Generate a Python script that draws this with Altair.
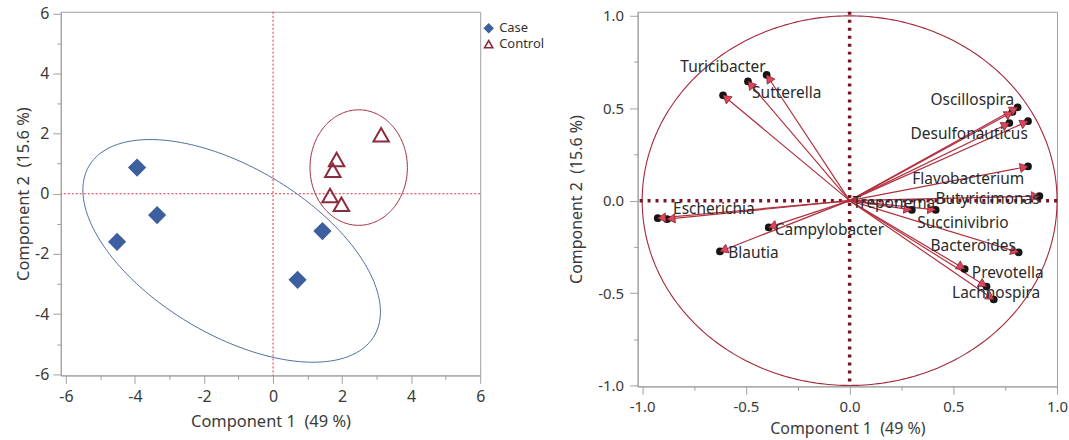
import altair as alt
import pandas as pd
import numpy as np

# ---------------- Left panel: sample scores ----------------
groups = ["Case", "Control"]
case_x = [-3.94, -3.36, -4.52, 1.43, 0.71]
case_y = [0.87, -0.71, -1.60, -1.24, -2.86]
control_x = [3.13, 1.84, 1.73, 1.65, 1.98]
control_y = [1.96, 1.14, 0.78, -0.06, -0.35]

# ellipse: centre x, centre y, semi-axis a, semi-axis b, rotation (deg)
case_ellipse = [-1.2, -1.9, 5.02, 2.66, -37.2]
control_ellipse = [2.48, 0.87, 1.41, 1.92, 0.0]

# ---------------- Right panel: loadings ----------------
load_x = [-0.40, -0.49, -0.61, 0.81, 0.785, 0.77, 0.86, 0.86, 0.915, 0.30,
          0.415, 0.815, 0.555, 0.66, 0.695, -0.925, -0.88, -0.39, -0.625]
load_y = [0.68, 0.645, 0.57, 0.505, 0.48, 0.42, 0.43, 0.185, 0.025, -0.05,
          -0.05, -0.28, -0.37, -0.465, -0.535, -0.095, -0.10, -0.145, -0.275]

label_names = ["Turicibacter", "Sutterella", "Oscillospira", "Desulfonauticus",
               "Flavobacterium", "Butyricimonas", "Treponema", "Succinivibrio",
               "Bacteroides", "Prevotella", "Lachnospira", "Escherichia",
               "Campylobacter", "Blautia"]
label_x = [-0.816, -0.47, 0.39, 0.294, 0.302, 0.414, 0.014, 0.326, 0.39, 0.589,
           0.494, -0.851, -0.361, -0.585]
label_y = [0.725, 0.58, 0.544, 0.361, 0.117, 0.011, -0.012, -0.119, -0.244,
           -0.389, -0.501, -0.048, -0.158, -0.286]

FONT = "Noto Sans"
TXT = "#3a3a3a"
FRAME = "#a0a0a0"
TITLE_X = "Component 1\u00a0 (49 %)"
TITLE_Y = "Component 2\u00a0 (15.6 %)"

# ---------- left chart ----------
LW, LH = 421, 365
xs_l = alt.Scale(domain=[-6.15, 6.0], nice=False, zero=False)
ys_l = alt.Scale(domain=[-6.04, 6.05], nice=False, zero=False)
tick_l = {"condition": {"test": "datum.value % 2 == 0", "value": 8}, "value": 4}
lab_l = "datum.value % 2 == 0 ? '' + datum.value : ''"
ax_lx = alt.Axis(values=list(range(-6, 7)), labelExpr=lab_l, tickSize=tick_l,
                 title=TITLE_X, grid=False, labelFontSize=16, titleFontSize=16.5,
                 titlePadding=9, labelPadding=5, labelFlush=False)
ax_ly = alt.Axis(values=list(range(-6, 7)), labelExpr=lab_l, tickSize=tick_l,
                 title=TITLE_Y, grid=False, labelFontSize=16, titleFontSize=16.5,
                 titlePadding=3, labelPadding=4, labelFlush=False)


def LX(f):
    return alt.X(f, type="quantitative", scale=xs_l, axis=ax_lx)


def LY(f):
    return alt.Y(f, type="quantitative", scale=ys_l, axis=ax_ly)


zero_df = pd.DataFrame({"v": [0.0]})
l_h = alt.Chart(zero_df).mark_rule(color="#e0303c", strokeDash=[2, 2], strokeWidth=1).encode(y=LY("v"))
l_v = alt.Chart(zero_df).mark_rule(color="#e0303c", strokeDash=[2, 2], strokeWidth=1).encode(x=LX("v"))


def ellipse_df(p, name):
    cx, cy, a, b, ang = p
    t = np.linspace(0, 2 * np.pi, 241)
    th = np.radians(ang)
    ex = cx + a * np.cos(t) * np.cos(th) - b * np.sin(t) * np.sin(th)
    ey = cy + a * np.cos(t) * np.sin(th) + b * np.sin(t) * np.cos(th)
    return pd.DataFrame({"ex": ex, "ey": ey, "o": np.arange(len(t)), "grp": name})


e1 = alt.Chart(ellipse_df(case_ellipse, "Case")).mark_line(color="#4f6d9f", strokeWidth=1).encode(
    x=LX("ex"), y=LY("ey"), order="o:Q")
e2 = alt.Chart(ellipse_df(control_ellipse, "Control")).mark_line(color="#a3283a", strokeWidth=1).encode(
    x=LX("ex"), y=LY("ey"), order="o:Q")

pts = pd.DataFrame({"x": case_x + control_x, "y": case_y + control_y,
                    "group": ["Case"] * len(case_x) + ["Control"] * len(control_x)})
leg = alt.Legend(title=None, orient="none", legendX=423, legendY=10, symbolSize=70,
                 labelFontSize=13, labelFont=FONT, labelColor="#333333", rowPadding=1,
                 symbolStrokeWidth=1.6, labelOffset=4)
points = alt.Chart(pts).mark_point(size=240, strokeWidth=2, opacity=1).encode(
    x=LX("x"), y=LY("y"),
    shape=alt.Shape("group:N", scale=alt.Scale(domain=groups, range=["diamond", "triangle-up"]), legend=leg),
    fill=alt.Fill("group:N", scale=alt.Scale(domain=groups, range=["#3d5f9e", "transparent"]), legend=leg),
    stroke=alt.Stroke("group:N", scale=alt.Scale(domain=groups, range=["#3d5f9e", "#8e2a3e"]), legend=leg),
)

left = alt.layer(l_h, l_v, e1, e2, points).properties(width=LW, height=LH)

# ---------- right chart ----------
RW, RH = 421, 376
xs_r = alt.Scale(domain=[-1.022, 1.0], nice=False, zero=False)
ys_r = alt.Scale(domain=[-1.005, 1.022], nice=False, zero=False)
is_major = "abs(datum.value * 2 - round(datum.value * 2)) < 0.001"
tick_r = {"condition": {"test": is_major, "value": 8}, "value": 4}
lab_r = is_major + " ? replace(format(datum.value, '.1f'), '\u2212', '-') : ''"
rvals = [-1.0, -0.75, -0.5, -0.25, 0.0, 0.25, 0.5, 0.75, 1.0]
ax_rx = alt.Axis(values=rvals, labelExpr=lab_r, tickSize=tick_r,
                 title=TITLE_X, grid=False, labelFontSize=15, titleFontSize=16,
                 titlePadding=6, labelPadding=5, labelFlush=False)
ax_ry = alt.Axis(values=rvals, labelExpr=lab_r, tickSize=tick_r,
                 title=TITLE_Y, grid=False, labelFontSize=15, titleFontSize=16,
                 titlePadding=13, labelPadding=6, labelFlush=False)


def RX(f):
    return alt.X(f, type="quantitative", scale=xs_r, axis=ax_rx)


def RY(f):
    return alt.Y(f, type="quantitative", scale=ys_r, axis=ax_ry)


t = np.linspace(0, 2 * np.pi, 361)
circ = pd.DataFrame({"cx": np.cos(t), "cy": np.sin(t), "o": np.arange(len(t))})
r_circle = alt.Chart(circ).mark_line(color="#a3283a", strokeWidth=1.1).encode(
    x=RX("cx"), y=RY("cy"), order="o:Q")
r_h = alt.Chart(zero_df).mark_rule(color="#7a1422", strokeDash=[3, 5], strokeWidth=3.5).encode(y=RY("v"))
r_v = alt.Chart(zero_df).mark_rule(color="#7a1422", strokeDash=[3, 5], strokeWidth=3.5).encode(x=RX("v"))

sx = RW / 2.022
sy = RH / 2.027
vec = pd.DataFrame({"x": load_x, "y": load_y})
vec["x0"] = 0.0
vec["y0"] = 0.0
vec["ang"] = (np.degrees(np.arctan2(vec["x"] * sx, vec["y"] * sy))) % 360
lenpx = np.sqrt((vec["x"] * sx) ** 2 + (vec["y"] * sy) ** 2)
f = 1 - 4.0 / lenpx
vec["hx"] = vec["x"] * f
vec["hy"] = vec["y"] * f

r_vec = alt.Chart(vec).mark_rule(color="#b0303f", strokeWidth=1.2).encode(
    x=RX("x0"), y=RY("y0"), x2="x", y2="y")
r_dot = alt.Chart(vec).mark_point(shape="circle", filled=True, color="#151515", size=60, opacity=1).encode(
    x=RX("x"), y=RY("y"))
r_head = alt.Chart(vec).mark_point(shape="triangle-up", filled=True, fill="#d8485a", stroke="#8a1c2c",
                                   strokeWidth=0.7, size=85, opacity=1).encode(
    x=RX("hx"), y=RY("hy"), angle=alt.Angle("ang:Q", scale=None))

labs = pd.DataFrame({"name": label_names, "lx": label_x, "ly": label_y})
r_text = alt.Chart(labs).mark_text(align="left", baseline="middle", fontSize=15.5, font=FONT,
                                   color="#2a2a2a").encode(
    x=RX("lx"), y=RY("ly"), text="name:N")

right = alt.layer(r_circle, r_h, r_v, r_vec, r_dot, r_head, r_text).properties(width=RW, height=RH)

chart = alt.hconcat(left, right, spacing=82).properties(
    padding={"left": 15, "top": 4, "right": 0, "bottom": 0},
    background="white",
).configure_view(stroke=FRAME, strokeWidth=1).configure_axis(
    labelFont=FONT, titleFont=FONT, titleFontWeight="normal",
    labelColor=TXT, titleColor=TXT, domainColor=FRAME, tickColor=FRAME
)

chart.save("out.html", embed_options={"renderer": "svg", "actions": False})
